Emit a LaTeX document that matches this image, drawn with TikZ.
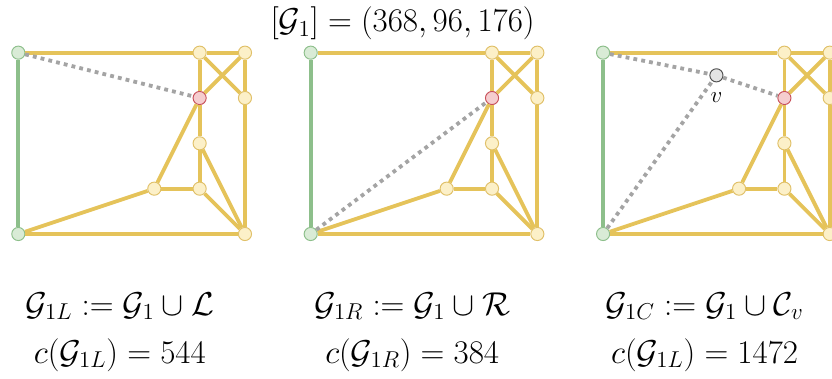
\documentclass[tikz,border=0pt]{standalone}
\usepackage{amsmath, amssymb}
\usepackage{tikz}
\usetikzlibrary{positioning}
\definecolor{edgeyellow}{HTML}{E5C35A}
\definecolor{fillyellow}{HTML}{FCF0C8}
\definecolor{lineyellow}{HTML}{E0C068}
\definecolor{edgegreen}{HTML}{8DBF8B}
\definecolor{fillgreen}{HTML}{D9EBD6}
\definecolor{linegreen}{HTML}{8DBF8B}
\definecolor{fillred}{HTML}{F5CDCF}
\definecolor{linered}{HTML}{C8505A}
\definecolor{fillgray}{HTML}{E4E4E4}
\definecolor{linegray}{HTML}{505050}
\definecolor{dotgray}{HTML}{A4A4A4}
\tikzset{
  vert/.style={
    circle, draw, inner sep=0pt,
    minimum size=0.29cm,
    line width=0.6pt
  },
  % Stili per i vertici e gli archi
  yvert/.style={vert, fill=fillyellow, draw=lineyellow},
  gvert/.style={vert, fill=fillgreen, draw=linegreen},
  rvert/.style={vert, fill=fillred, draw=linered},
  xvert/.style={vert, fill=fillgray, draw=linegray},
  yedge/.style={draw=edgeyellow, line width=2.4pt},
  gedge/.style={draw=edgegreen, line width=2.4pt},
  added/.style={draw=dotgray, line width=2.4pt, dash pattern=on 2.4pt off 2.6pt},
  formula/.style={font=\huge, anchor=base, inner sep=0pt}
}

\begin{document}
\begin{tikzpicture}
\useasboundingbox (-0.404,-3.177) rectangle (17.95,5.162);

% Tre copie del grafo G1
\foreach \p/\dx in {1/0, 2/6.45, 3/12.9} {
  \begin{scope}[xshift=\dx cm]
  \node[gvert] (tl\p) at (0,4) {};
  \node[gvert] (bl\p) at (0,0) {};
  \node[yvert] (ta\p) at (4,4) {};
  \node[yvert] (tb\p) at (5,4) {};
  \node[rvert] (r\p) at (4,3) {};
  \node[yvert] (rm\p) at (5,3) {};
  \node[yvert] (m\p) at (4,2) {};
  \node[yvert] (a\p) at (3,1) {};
  \node[yvert] (b\p) at (4,1) {};
  \node[yvert] (br\p) at (5,0) {};

  \draw[gedge] (tl\p) -- (bl\p);
  \draw[yedge] (tl\p) -- (ta\p);
  \draw[yedge] (ta\p) -- (tb\p);
  \draw[yedge] (ta\p) -- (r\p);
  \draw[yedge] (ta\p) -- (rm\p);
  \draw[yedge] (tb\p) -- (r\p);
  \draw[yedge] (tb\p) -- (rm\p);
  \draw[yedge] (rm\p) -- (br\p);
  \draw[yedge] (r\p) -- (m\p);
  \draw[yedge] (r\p) -- (a\p);
  \draw[yedge] (m\p) -- (b\p);
  \draw[yedge] (m\p) -- (br\p);
  \draw[yedge] (a\p) -- (b\p);
  \draw[yedge] (a\p) -- (bl\p);
  \draw[yedge] (b\p) -- (br\p);
  \draw[yedge] (bl\p) -- (br\p);
  \end{scope}
}

% Archi aggiunti (tratteggiati)
\draw[added] (tl1) -- (r1);
\draw[added] (bl2) -- (r2);
\node[xvert] (v3) at (15.4,3.5) {};
\node[font=\Large, below=0.1cm of v3] (vlabel) {$v$};
\draw[added] (tl3) -- (v3);
\draw[added] (v3) -- (r3);
\draw[added] (bl3) -- (v3);

% Titolo e formule
\node[formula] (title) at (8.48,4.47) {$[\mathcal{G}_1] = (368, 96, 176)$};
\node[formula] (defl) at (2.24,-1.787) {$\mathcal{G}_{1L} := \mathcal{G}_1 \cup \mathcal{L}$};
\node[formula] (defr) at (8.69,-1.787) {$\mathcal{G}_{1R} := \mathcal{G}_1 \cup \mathcal{R}$};
\node[formula] (defc) at (15.14,-1.787) {$\mathcal{G}_{1C} := \mathcal{G}_1 \cup \mathcal{C}_v$};
\node[formula] (costl) at (2.24,-2.846) {$c(\mathcal{G}_{1L}) = 544$};
\node[formula] (costr) at (8.69,-2.846) {$c(\mathcal{G}_{1R}) = 384$};
\node[formula] (costc) at (15.14,-2.846) {$c(\mathcal{G}_{1L}) = 1472$};

\end{tikzpicture}
\end{document}
